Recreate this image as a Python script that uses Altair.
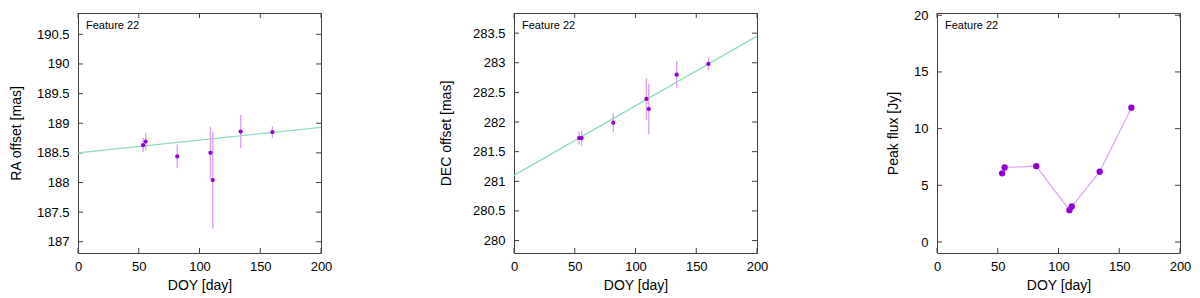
import altair as alt
import pandas as pd

# ---------------- data ----------------
doy = [53.6, 55.7, 81.7, 109.0, 110.9, 133.9, 160.0]
ra_offset = [188.63, 188.69, 188.44, 188.50, 188.04, 188.86, 188.85]
ra_err = [0.12, 0.15, 0.20, 0.44, 0.82, 0.28, 0.10]
dec_offset = [281.73, 281.73, 281.99, 282.39, 282.22, 282.80, 282.98]
dec_err = [0.11, 0.13, 0.16, 0.35, 0.43, 0.23, 0.11]
peak_flux = [6.06, 6.57, 6.69, 2.81, 3.13, 6.20, 11.85]

fit_x = [0, 200]
ra_fit = [188.50, 188.93]
dec_fit = [281.10, 283.45]

x_ticks = [0, 50, 100, 150, 200]
ra_ticks = [187, 187.5, 188, 188.5, 189, 189.5, 190, 190.5]
dec_ticks = [280, 280.5, 281, 281.5, 282, 282.5, 283, 283.5]
flux_ticks = [0, 5, 10, 15, 20]

ra_domain = [186.81, 190.86]
dec_domain = [279.79, 283.84]
flux_domain = [-0.97, 20.2]
x_domain = [0, 200]

label_text = "Feature 22"

# ---------------- styling ----------------
W, H = 243, 240
FONT = "Liberation Sans"
PT = "#9400d3"
ERR = "#dca4f2"
FIT = "#8edcc0"
TICKC = "#404040"
TL = 5
FS = 13
TFS = 14

x_scale = alt.Scale(domain=x_domain, nice=False, zero=False)
X_AXIS = alt.Axis(values=x_ticks, format="d", title="DOY [day]",
                  labelPadding=7, titlePadding=5, labelFlush=False,
                  labelFontSize=FS, titleFontSize=TFS, labelFont=FONT, titleFont=FONT)


def panel(yvals, yerr, fit_y, domain, yticks, yfmt, ytitle, extent, tpad, big=False, line=False):
    y_scale = alt.Scale(domain=domain, nice=False, zero=False)
    yax = alt.Axis(values=yticks, format=yfmt, title=ytitle, labelPadding=9,
                   labelFlush=False,
                   minExtent=extent, maxExtent=extent, titlePadding=tpad,
                   labelFontSize=FS, titleFontSize=TFS, labelFont=FONT, titleFont=FONT)

    def X(f):
        return alt.X(f, type="quantitative", scale=x_scale, axis=X_AXIS)

    def Y(f):
        return alt.Y(f, type="quantitative", scale=y_scale, axis=yax)

    layers = []
    xt = pd.DataFrame({"v": x_ticks})
    yt = pd.DataFrame({"v": yticks})
    layers.append(alt.Chart(xt).mark_rule(color=TICKC, strokeWidth=1).encode(
        x=X("v"), y=alt.value(H), y2=alt.value(H - TL)))
    layers.append(alt.Chart(xt).mark_rule(color=TICKC, strokeWidth=1).encode(
        x=X("v"), y=alt.value(0), y2=alt.value(TL)))
    layers.append(alt.Chart(yt).mark_rule(color=TICKC, strokeWidth=1).encode(
        y=Y("v"), x=alt.value(0), x2=alt.value(TL)))
    layers.append(alt.Chart(yt).mark_rule(color=TICKC, strokeWidth=1).encode(
        y=Y("v"), x=alt.value(W - TL), x2=alt.value(W)))

    if fit_y is not None:
        fd = pd.DataFrame({"x": fit_x, "y": fit_y})
        layers.append(alt.Chart(fd).mark_line(color=FIT, strokeWidth=1.2).encode(
            x=X("x"), y=Y("y")))

    if yerr is not None:
        ed = pd.DataFrame({"x": doy,
                           "lo": [v - e for v, e in zip(yvals, yerr)],
                           "hi": [v + e for v, e in zip(yvals, yerr)]})
        layers.append(alt.Chart(ed).mark_rule(color=ERR, strokeWidth=1.4).encode(
            x=X("x"), y=Y("lo"), y2="hi:Q"))

    if line:
        ld = pd.DataFrame({"x": doy[1:], "y": yvals[1:]})
        layers.append(alt.Chart(ld).mark_line(color=ERR, strokeWidth=1.2).encode(
            x=X("x"), y=Y("y")))

    pdf = pd.DataFrame({"x": doy, "y": yvals})
    layers.append(alt.Chart(pdf).mark_circle(color=PT, opacity=1, size=40 if big else 18).encode(
        x=X("x"), y=Y("y")))

    layers.append(alt.Chart(pd.DataFrame({"t": [label_text]})).mark_text(
        align="left", baseline="middle", fontSize=11, font=FONT, color="black").encode(
        x=alt.value(8), y=alt.value(13), text="t:N"))

    return alt.layer(*layers).properties(width=W, height=H)


def spacer(w):
    return alt.Chart(pd.DataFrame({"a": [0]})).mark_point(opacity=0).encode(
        x=alt.value(0), y=alt.value(0)).properties(
        width=w, height=H, view=alt.ViewBackground(stroke="transparent"))


p1 = panel(ra_offset, ra_err, ra_fit, ra_domain, ra_ticks, ".1~f", "RA offset [mas]", 42, 13)
p2 = panel(dec_offset, dec_err, dec_fit, dec_domain, dec_ticks, ".1~f", "DEC offset [mas]", 42, 19)
p3 = panel(peak_flux, None, None, flux_domain, flux_ticks, "d", "Peak flux [Jy]", 24, 13, big=True, line=True)

chart = alt.hconcat(p1, spacer(193), p2, spacer(180), p3, spacing=0, bounds="flush").properties(
    padding=0
).configure_view(
    stroke="#404040", strokeWidth=1
).configure_axis(
    labelFont=FONT, titleFont=FONT, labelFontSize=FS, titleFontSize=TFS,
    titleFontWeight="normal", labelColor="black", titleColor="black",
    grid=False, ticks=False, domain=False
)

chart.save("out.html", embed_options={"renderer": "svg", "actions": False})
